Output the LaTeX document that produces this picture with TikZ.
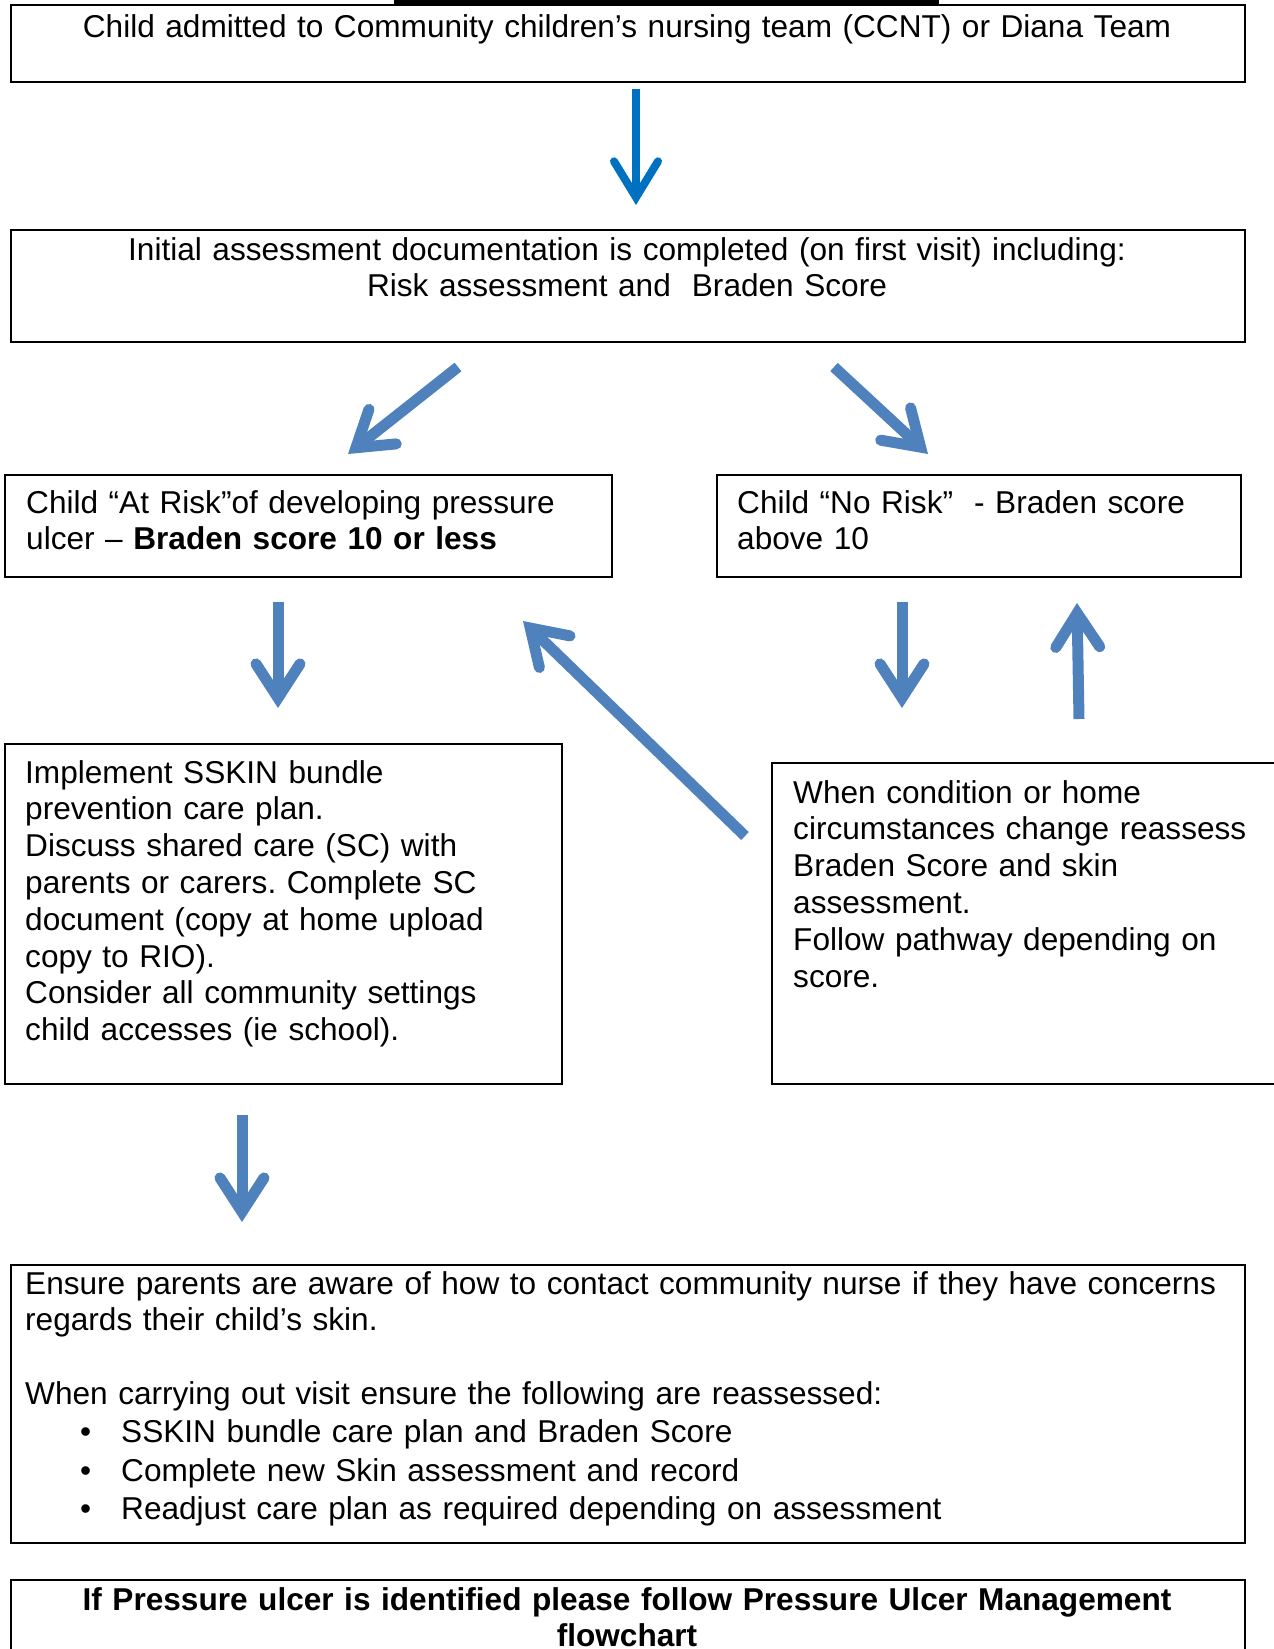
\documentclass[tikz,border=0pt]{standalone}
\usepackage{fontspec}
\setmainfont{Liberation Sans}
\usetikzlibrary{arrows.meta}
\definecolor{flowblue}{RGB}{79,129,189}
\definecolor{topblue}{RGB}{0,112,192}
\frenchspacing
\newcommand{\bul}{\hspace*{55pt}\makebox[41pt][l]{\textbullet}}
\tikzset{
    box/.style={line width=2pt},
    txt/.style={inner sep=0pt, anchor=base west, text width=#1, align=left,
        font=\fontsize{31.6}{36.8}\selectfont},
    ctxt/.style={inner sep=0pt, anchor=base, text width=#1, align=center,
        font=\fontsize{31.6}{36.8}\selectfont},
    flow/.style={flowblue, line width=11pt,
        -{Straight Barb[length=34pt, width=44pt, line cap=round, line join=miter]}},
    topflow/.style={topblue, line width=8pt,
        -{Straight Barb[length=36pt, width=44pt, line cap=round, line join=miter]}}
}
\begin{document}
\begin{tikzpicture}[x=1pt, y=-1pt]
    \useasboundingbox (0,0) rectangle (1274,1649);
    \fill (394,0) rectangle (939,5);
    \begin{scope}
        \draw[box] (10.5,5.3) rectangle (1244.5,82);
        \node (admit) [ctxt=1230pt] at (627,37) {Child admitted to Community children’s nursing team (CCNT) or Diana Team};
        \draw[box] (10.5,230.4) rectangle (1244.5,342);
        \node (initial) [ctxt=1230pt] at (627,260) {Initial assessment documentation is completed (on first visit) including:\\ Risk assessment and\ \ Braden Score};
    \end{scope}
    \begin{scope}
        \draw[box] (5.3,474.5) rectangle (612,576.5);
        \node (atrisk) [txt=580pt] at (26,513) {Child “At Risk”of developing pressure\\ ulcer – \textbf{Braden score 10 or less}};
        \draw[box] (716.5,474.5) rectangle (1241,576.5);
        \node (norisk) [txt=500pt] at (737,513) {Child “No Risk”\ \ - Braden score\\ above 10};
    \end{scope}
    \begin{scope}
        \draw[box] (5.3,744) rectangle (562,1083.6);
        \node (sskin) [txt=530pt] at (25,783) {Implement SSKIN bundle\\ prevention care plan.\\ Discuss shared care (SC) with\\ parents or carers. Complete SC\\ document (copy at home upload\\ copy to RIO).\\ Consider all community settings\\ child accesses (ie school).};
        \draw[box] (772,763) rectangle (1290,1083.6);
        \node (reassess) [txt=480pt] at (793,803) {When condition or home\\ circumstances change reassess\\ Braden Score and skin\\ assessment.\\ Follow pathway depending on\\ score.};
    \end{scope}
    \begin{scope}
        \draw[box] (10.5,1264.5) rectangle (1244.5,1543);
        \node (ensure) [txt=1240pt] at (25,1294) {Ensure parents are aware of how to contact community nurse if they have concerns\\ regards their child’s skin.\\[36.8pt] When carrying out visit ensure the following are reassessed:\\[1.5pt] \bul SSKIN bundle care plan and Braden Score\\[1.5pt] \bul Complete new Skin assessment and record\\[1.5pt] \bul Readjust care plan as required depending on assessment};
        \draw[box] (10.5,1580) rectangle (1244.5,1670);
        \node (ulcer) [ctxt=1230pt] at (627,1610) {\bfseries If Pressure ulcer is identified please follow Pressure Ulcer Management\\ flowchart};
    \end{scope}
    \coordinate (a1s) at (636,89);   \coordinate (a1e) at (636,205);
    \coordinate (a2s) at (458,367);  \coordinate (a2e) at (348,454);
    \coordinate (a3s) at (834,367);  \coordinate (a3e) at (928,454);
    \coordinate (a4s) at (278,602);  \coordinate (a4e) at (278,708);
    \coordinate (a5s) at (745,836);  \coordinate (a5e) at (523,621);
    \coordinate (a6s) at (902,602);  \coordinate (a6e) at (902,708);
    \coordinate (a7s) at (1079,719); \coordinate (a7e) at (1077,603);
    \coordinate (a8s) at (242,1115); \coordinate (a8e) at (242,1222);
    \draw[topflow] (a1s) -- (a1e);
    \draw[flow] (a2s) -- (a2e);
    \draw[flow] (a3s) -- (a3e);
    \draw[flow] (a4s) -- (a4e);
    \draw[flow] (a5s) -- (a5e);
    \draw[flow] (a6s) -- (a6e);
    \draw[flow] (a7s) -- (a7e);
    \draw[flow] (a8s) -- (a8e);
\end{tikzpicture}
\end{document}
